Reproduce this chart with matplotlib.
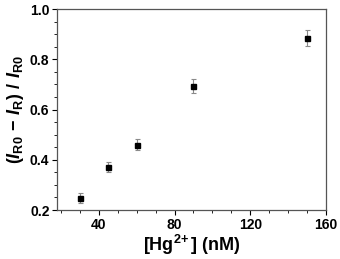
import matplotlib
matplotlib.use("Agg")
import matplotlib.pyplot as plt
from matplotlib.ticker import MultipleLocator

conc = [30, 45, 60, 90, 150]
response = [0.248, 0.373, 0.460, 0.693, 0.885]
errors = [0.020, 0.020, 0.022, 0.028, 0.032]
x_ticks = [40, 80, 120, 160]
y_ticks = [0.2, 0.4, 0.6, 0.8, 1.0]

plt.rcParams['font.family'] = ['Liberation Sans', 'DejaVu Sans']
plt.rcParams['font.weight'] = 'bold'
plt.rcParams['mathtext.fontset'] = 'custom'
plt.rcParams['mathtext.rm'] = 'Liberation Sans:bold'
plt.rcParams['mathtext.it'] = 'Liberation Sans:bold:italic'
plt.rcParams['mathtext.bf'] = 'Liberation Sans:bold'

fig = plt.figure(figsize=(3.40, 2.59), dpi=100)
ax = fig.add_axes([0.168, 0.189, 0.791, 0.776])

ax.errorbar(conc, response, yerr=errors, fmt='none', ecolor='#8a8a8a',
            elinewidth=0.8, capsize=1.8, capthick=0.8, zorder=2)
ax.plot(conc, response, linestyle='none', marker='s', markersize=3.6,
        color='black', zorder=3)

ax.set_xlim(18, 160)
ax.set_ylim(0.2, 1.0)
ax.set_xticks(x_ticks)
ax.set_yticks(y_ticks)
ax.set_xticklabels([str(v) for v in x_ticks])
ax.set_yticklabels([f"{v:.1f}" for v in y_ticks])
ax.xaxis.set_minor_locator(MultipleLocator(10))
ax.yaxis.set_minor_locator(MultipleLocator(0.05))

ax.tick_params(axis='both', which='major', direction='out', length=3.5, width=0.8,
               labelsize=10, colors='black', pad=2)
ax.tick_params(axis='both', which='minor', direction='out', length=2, width=0.6)
for lbl in ax.get_xticklabels() + ax.get_yticklabels():
    lbl.set_fontweight('bold')

for s in ax.spines.values():
    s.set_color('#555555')
    s.set_linewidth(0.9)

ax.set_xlabel(r'[Hg$^{2\!+}$] (nM)', fontsize=13, fontweight='bold', labelpad=1)
ax.set_ylabel(r'$(I_{\rm R0}\,-\,I_{\rm R})\ /\ I_{\rm R0}$', fontsize=13, labelpad=3)

fig.savefig('out.png', dpi=100)
